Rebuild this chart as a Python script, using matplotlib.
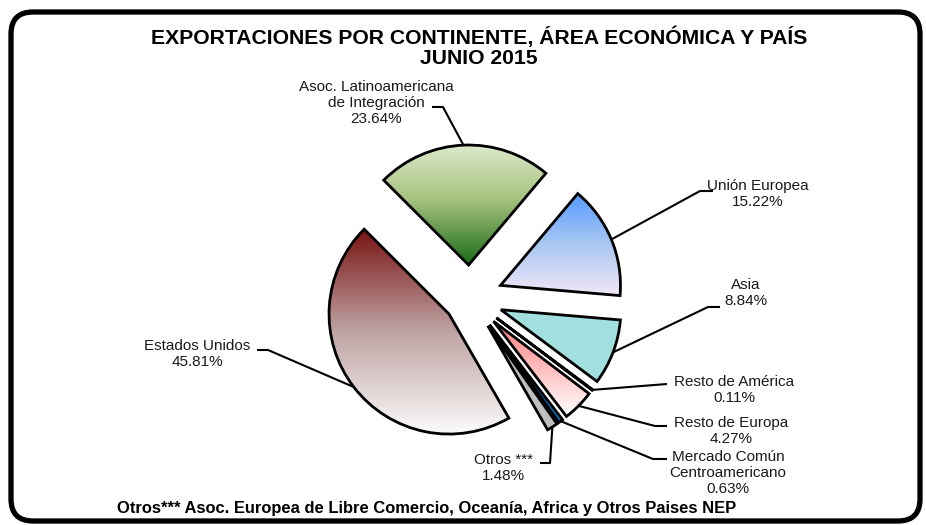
import numpy as np
import matplotlib
matplotlib.use("Agg")
import matplotlib.pyplot as plt
from matplotlib.colors import LinearSegmentedColormap
from matplotlib.patches import FancyBboxPatch

plt.rcParams['font.family'] = ['Liberation Sans', 'DejaVu Sans']

# data (clockwise from the top-left)
categories = ["Asoc. Latinoamericana\nde Integración", "Unión Europea", "Asia",
              "Resto de América", "Resto de Europa",
              "Mercado Común\nCentroamericano", "Otros ***", "Estados Unidos"]
shares = [23.64, 15.22, 8.84, 0.11, 4.27, 0.63, 1.48, 45.81]
title = "EXPORTACIONES POR CONTINENTE, ÁREA ECONÓMICA Y PAÍS\nJUNIO 2015"
footnote = "Otros*** Asoc. Europea de Libre Comercio, Oceanía, Africa y Otros Paises NEP"

# fill gradients, top -> bottom
fills = [
    [(0.0, "#dde9cc"), (0.45, "#a6c27f"), (1.0, "#1c6c17")],
    [(0.0, "#589aff"), (0.5, "#a9c8f3"), (1.0, "#f3e7f7")],
    [(0.0, "#a2e0e0"), (1.0, "#a2e0e0")],
    [(0.0, "#f4f4f4"), (1.0, "#f4f4f4")],
    [(0.0, "#ff7c7c"), (1.0, "#ffffff")],
    [(0.0, "#0070c0"), (1.0, "#0070c0")],
    [(0.0, "#bfbfbf"), (1.0, "#bfbfbf")],
    [(0.0, "#781313"), (0.5, "#bfa3a3"), (1.0, "#fbfbfb")],
]

W, H = 926, 525
R = 120
explode = [f * R for f in [0.275, 0.275, 0.275, 0.275, 0.275, 0.275, 0.275, 0.22]]

fig = plt.figure(figsize=(W / 100, H / 100), dpi=100)
ax = fig.add_axes([0, 0, 1, 1])


def yy(y):
    # pixel row (from top) -> axis y
    return H - y


wedges, _ = ax.pie(shares, explode=explode, startangle=135, counterclock=False,
                   center=(470, yy(298)), radius=R, frame=True,
                   wedgeprops=dict(edgecolor="black", linewidth=2.0))

grad = np.linspace(1, 0, 256).reshape(-1, 1)
for w, stops in zip(wedges, fills):
    w.set_facecolor("none")
    w.set_zorder(3)
    ext = w.get_path().get_extents()
    cmap = LinearSegmentedColormap.from_list("g", [(1 - p, c) for p, c in stops][::-1])
    im = ax.imshow(grad, extent=[ext.x0, ext.x1, ext.y0, ext.y1], cmap=cmap,
                   vmin=0, vmax=1, aspect="auto", zorder=2, interpolation="bilinear")
    im.set_clip_path(w)

# label layout: (text center, elbow points) in pixel rows from top
label_text = [f"{c}\n{v:.2f}%" for c, v in zip(categories, shares)]
layout = [
    ((376, 103), [(443, 107), (432, 107)]),
    ((758, 194), [(700, 191), (713, 191)]),
    ((746, 293), [(708, 307), (720, 307)]),
    ((734, 390), [(667, 384)]),
    ((731, 431), [(655, 426), (667, 426)]),
    ((728, 473), [(653, 459), (667, 459)]),
    ((503, 468), [(550, 463), (540, 463)]),
    ((197, 354), [(268, 350), (257, 350)]),
]
for w, txt, (pos, elbow) in zip(wedges, label_text, layout):
    mid = np.deg2rad((w.theta1 + w.theta2) / 2)
    ax0 = w.center[0] + w.r * np.cos(mid)
    ay0 = w.center[1] + w.r * np.sin(mid)
    xs = [ax0] + [p[0] for p in elbow]
    ys = [ay0] + [yy(p[1]) for p in elbow]
    ax.plot(xs, ys, color="black", lw=1.5, zorder=4, solid_capstyle="butt")
    ax.text(pos[0], yy(pos[1]), txt, ha="center", va="center", fontsize=11,
            color="#1a1a1a", linespacing=1.2)

ax.text(479, yy(47), title, ha="center", va="center", fontsize=15.2,
        fontweight="bold", linespacing=1.08)
ax.text(117, yy(509), footnote, ha="left", va="center", fontsize=11.9,
        fontweight="bold")

frame = FancyBboxPatch((11, yy(521)), 909, 509,
                       boxstyle="round,pad=0,rounding_size=22",
                       facecolor="none", edgecolor="black", linewidth=3.8,
                       zorder=5)
ax.add_patch(frame)

ax.set_xlim(0, W)
ax.set_ylim(0, H)
ax.set_aspect("equal")
ax.axis("off")

fig.savefig("out.png", dpi=100)
